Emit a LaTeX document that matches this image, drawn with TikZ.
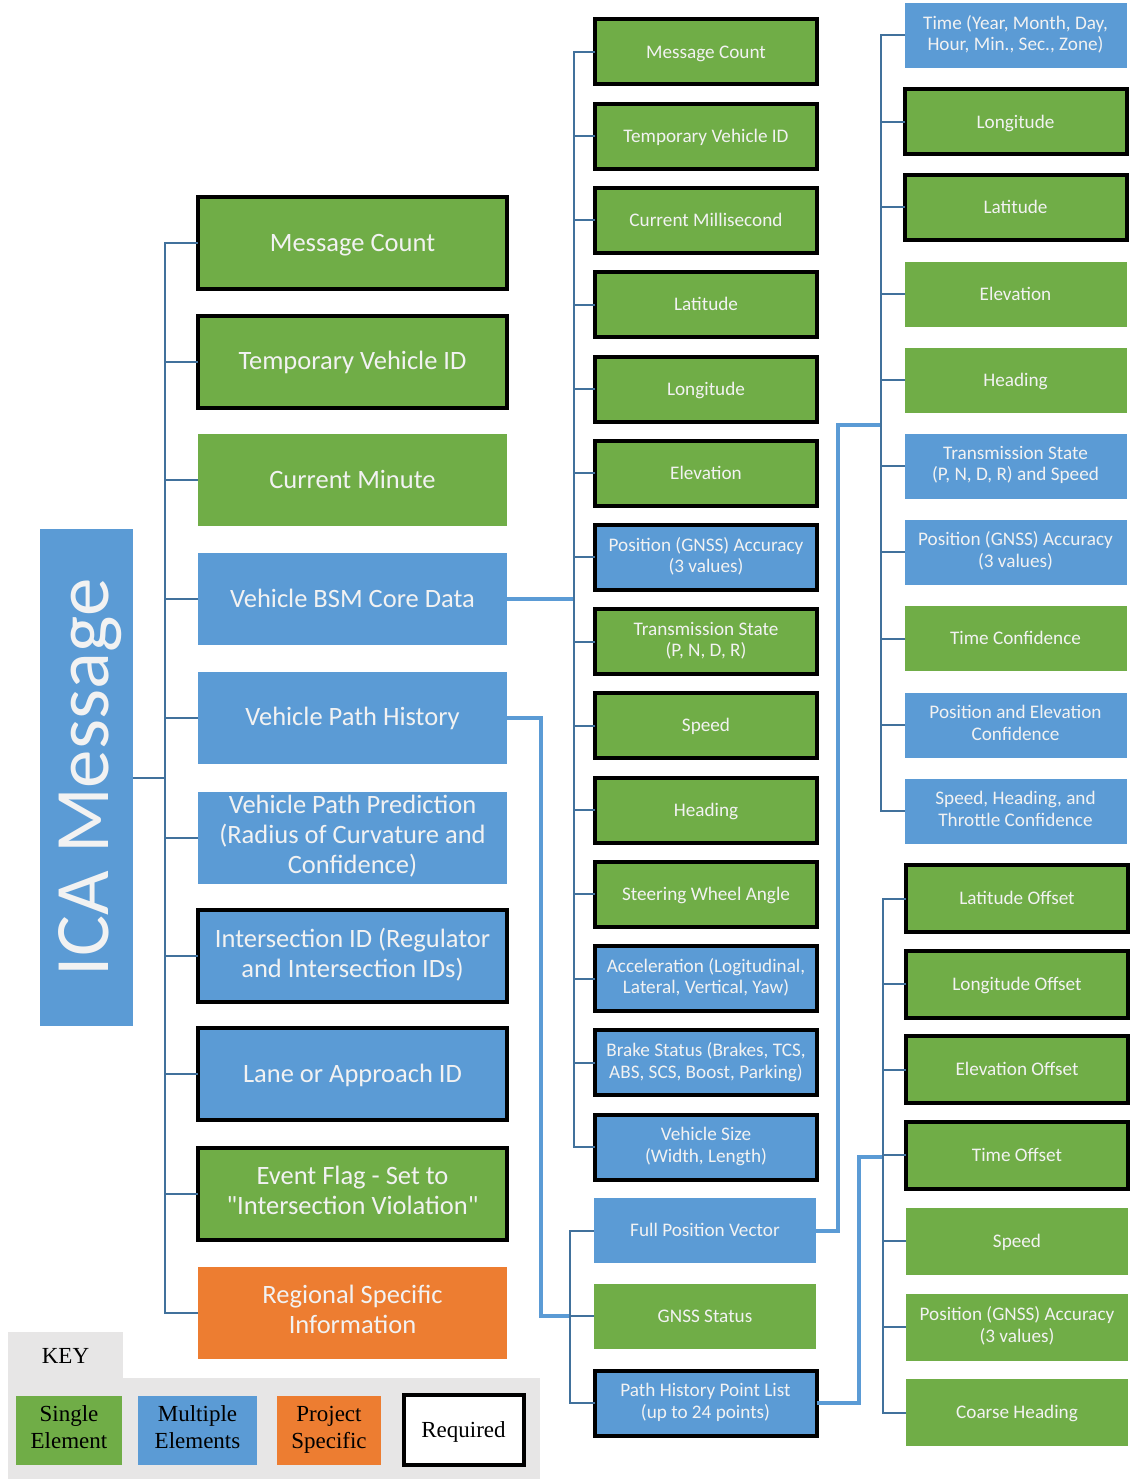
\documentclass[tikz,border=0pt]{standalone}
\usepackage{fontspec}
\setmainfont{Carlito}
\newfontfamily\keyfont{Liberation Serif}
\usepackage{xcolor}
\usepackage{tikz}
\usetikzlibrary{positioning}
\definecolor{singlecolor}{RGB}{112, 173, 71}
\definecolor{multicolor}{RGB}{91, 155, 213}
\definecolor{projcolor}{RGB}{237, 125, 49}
\definecolor{linkcolor}{RGB}{65, 113, 156}
\definecolor{keygray}{RGB}{231, 230, 230}
\definecolor{boxtext}{RGB}{242, 242, 242}
% strut that centres the caps of a line in its box
\newcommand\boxstrut{\rule[-0.22\baselineskip]{0pt}{\baselineskip}}

\begin{document}
\begin{tikzpicture}[
    x=1pt, y=-1pt,
    % Box styles for the element kinds
    elem/.style={rectangle, inner sep=0pt, outer sep=0pt, align=center, text=boxtext,
        execute at begin node=\boxstrut, execute at end node=\boxstrut},
    single/.style={elem, fill=singlecolor},
    multi/.style={elem, fill=multicolor},
    proj/.style={elem, fill=projcolor},
    req/.style={draw=black, line width=4pt},
    % Box sizes per column
    big/.style={minimum width=309, minimum height=92, font=\fontsize{26.5}{30}\selectfont},
    mid/.style={minimum width=222, minimum height=65, font=\fontsize{19.2}{21.5}\selectfont},
    % Connector styles
    link/.style={draw=linkcolor, line width=2pt},
    bus/.style={draw=multicolor, line width=4pt},
    keybox/.style={rectangle, inner sep=0pt, align=center, font=\keyfont\fontsize{23}{27}\selectfont, minimum height=69,
        execute at begin node=\boxstrut, execute at end node=\boxstrut}
]
    \useasboundingbox (0,0) rectangle (1130,1479);

    % --- ROOT ---
    \node[multi, rotate=90, minimum width=497, minimum height=93, font=\fontsize{77}{80}\selectfont] (root) at (86.5, 777.5) {ICA Message};

    % --- FIRST COLUMN ---
    \node[single, big, req] (msgcount) at (352.5, 243) {Message Count};
    \node[single, big, req] (tempid) at (352.5, 361.5) {Temporary Vehicle ID};
    \node[single, big] (curmin) at (352.5, 480) {Current Minute};
    \node[multi, big] (bsm) at (352.5, 599) {Vehicle BSM Core Data};
    \node[multi, big] (vph) at (352.5, 717.5) {Vehicle Path History};
    \node[multi, big] (vpp) at (352.5, 838) {Vehicle Path Prediction\\(Radius of Curvature and\\Confidence)};
    \node[multi, big, req] (intid) at (352.5, 956) {Intersection ID (Regulator\\and Intersection IDs)};
    \node[multi, big, req] (laneid) at (352.5, 1074) {Lane or Approach ID};
    \node[single, big, req] (evflag) at (352.5, 1194) {Event Flag - Set to\\\textquotedbl Intersection Violation\textquotedbl};
    \node[proj, big] (regional) at (352.5, 1312.5) {Regional Specific\\Information};

    % rotated root: its south side faces right
    \foreach \n in {msgcount,tempid,curmin,bsm,vph,vpp,intid,laneid,evflag,regional} {
        \draw[link] (root.south) -- ++(32,0) |- (\n.west);
    }

    % --- BSM CORE DATA ---
    \node[single, mid, req] (bsm1) at (706, 52) {Message Count};
    \node[single, mid, req] (bsm2) at (706, 136.3) {Temporary Vehicle ID};
    \node[single, mid, req] (bsm3) at (706, 220.5) {Current Millisecond};
    \node[single, mid, req] (bsm4) at (706, 304.7) {Latitude};
    \node[single, mid, req] (bsm5) at (706, 389) {Longitude};
    \node[single, mid, req] (bsm6) at (706, 473) {Elevation};
    \node[multi, mid, req] (bsm7) at (706, 557.4) {Position (GNSS) Accuracy\\(3 values)};
    \node[single, mid, req] (bsm8) at (706, 641.6) {Transmission State\\(P, N, D, R)};
    \node[single, mid, req] (bsm9) at (706, 725.8) {Speed};
    \node[single, mid, req] (bsm10) at (706, 810) {Heading};
    \node[single, mid, req] (bsm11) at (706, 894.3) {Steering Wheel Angle};
    \node[multi, mid, req] (bsm12) at (706, 978.5) {Acceleration (Logitudinal,\\Lateral, Vertical, Yaw)};
    \node[multi, mid, req] (bsm13) at (706, 1062.7) {Brake Status (Brakes, TCS,\\ABS, SCS, Boost, Parking)};
    \node[multi, mid, req] (bsm14) at (706, 1147) {Vehicle Size\\(Width, Length)};

    \coordinate (bsmj) at (574, 599);
    \draw[bus] (bsm.east) -- (bsmj);
    \foreach \i in {1,...,14} {
        \draw[link] (bsmj) |- (bsm\i.west);
    }

    % --- PATH HISTORY ---
    \node[multi, mid] (fpv) at (705, 1230.5) {Full Position Vector};
    \node[single, mid] (gnss) at (705, 1316) {GNSS Status};
    \node[multi, mid, req] (phpl) at (705.5, 1403) {Path History Point List\\(up to 24 points)};

    \coordinate (phj) at (570, 1316);
    \draw[bus] (vph.east) -- ++(34,0) |- (phj);
    \foreach \n in {fpv,gnss,phpl} {
        \draw[link] (phj) |- (\n.west);
    }

    % --- FULL POSITION VECTOR ---
    \node[multi, mid] (fpv1) at (1015.5, 35.5) {Time (Year, Month, Day,\\Hour, Min., Sec., Zone)};
    \node[single, mid, req] (fpv2) at (1015.5, 122) {Longitude};
    \node[single, mid, req] (fpv3) at (1015.5, 207.5) {Latitude};
    \node[single, mid] (fpv4) at (1015.5, 294) {Elevation};
    \node[single, mid] (fpv5) at (1015.5, 380) {Heading};
    \node[multi, mid] (fpv6) at (1015.5, 466) {Transmission State\\(P, N, D, R) and Speed};
    \node[multi, mid] (fpv7) at (1015.5, 552) {Position (GNSS) Accuracy\\(3 values)};
    \node[single, mid] (fpv8) at (1015.5, 638.5) {Time Confidence};
    \node[multi, mid] (fpv9) at (1015.5, 725) {Position and Elevation\\Confidence};
    \node[multi, mid] (fpv10) at (1015.5, 811) {Speed, Heading, and\\Throttle Confidence};

    \coordinate (fpvj) at (881, 425);
    \draw[bus] (fpv.east) -- ++(22,0) |- (fpvj);
    \foreach \i in {1,...,10} {
        \draw[link] (fpvj) |- (fpv\i.west);
    }

    % --- PATH HISTORY POINTS ---
    \node[single, mid, req, minimum height=67] (pt1) at (1017, 898.5) {Latitude Offset};
    \node[single, mid, req, minimum height=67] (pt2) at (1017, 984) {Longitude Offset};
    \node[single, mid, req, minimum height=67] (pt3) at (1017, 1069.5) {Elevation Offset};
    \node[single, mid, req, minimum height=67] (pt4) at (1017, 1155) {Time Offset};
    \node[single, mid, minimum height=67] (pt5) at (1017, 1241) {Speed};
    \node[single, mid, minimum height=67] (pt6) at (1017, 1327) {Position (GNSS) Accuracy\\(3 values)};
    \node[single, mid, minimum height=67] (pt7) at (1017, 1412.5) {Coarse Heading};

    \coordinate (phplj) at (883, 1157);
    \draw[bus] (phpl.east) -- ++(42,0) |- (phplj);
    \foreach \i in {1,...,7} {
        \draw[link] (phplj) |- (pt\i.west);
    }

    % --- KEY ---
    \fill[keygray] (8, 1332) rectangle (123, 1378);
    \fill[keygray] (8, 1378) rectangle (540, 1479);
    \node[font=\keyfont\fontsize{23}{27}\selectfont] (keylbl) at (65.5, 1356) {KEY};
    \node[keybox, fill=singlecolor, minimum width=106] (keysingle) at (69, 1430) {Single\\Element};
    \node[keybox, fill=multicolor, minimum width=119] (keymulti) at (197.5, 1430) {Multiple\\Elements};
    \node[keybox, fill=projcolor, minimum width=104] (keyproj) at (329, 1430) {Project\\Specific};
    \node[keybox, fill=white, req, minimum width=120, minimum height=70] (keyreq) at (463.5, 1430) {Required};

\end{tikzpicture}
\end{document}
